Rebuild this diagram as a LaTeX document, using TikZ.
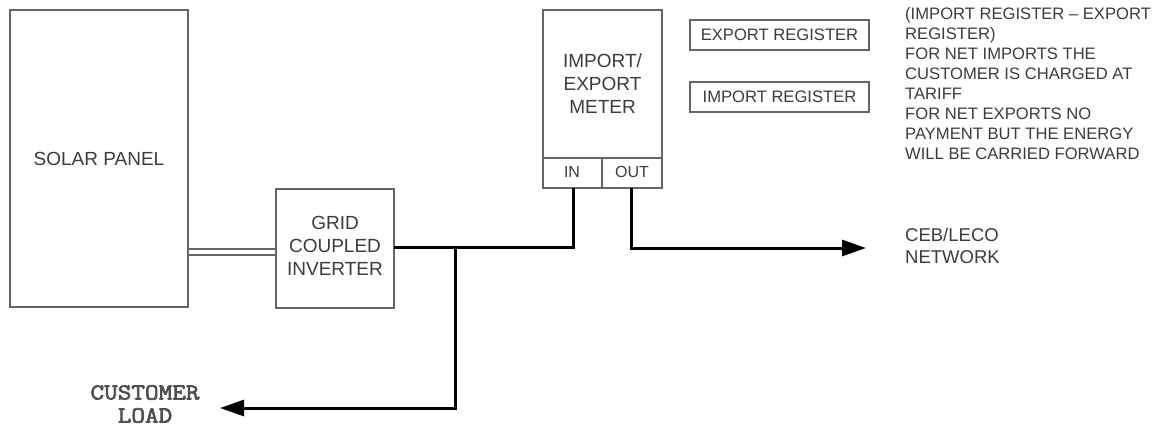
\documentclass[tikz,border=0pt]{standalone}
\usepackage{fontspec}
\setmainfont{Liberation Sans}
\newfontfamily\courfont[FakeStretch=1.15,FakeBold=3]{Latin Modern Mono}
\usetikzlibrary{arrows.meta}
\definecolor{txt}{HTML}{3C3C3C}
\definecolor{boxc}{HTML}{666666}
\begin{document}
\begin{tikzpicture}[x=1pt,y=-1pt,
  box/.style={draw=boxc,line width=1.6pt,inner sep=0pt,outer sep=0pt},
  lbl/.style={text=txt,font=\fontsize{19}{23}\selectfont,align=center,inner sep=0pt},
  small/.style={text=txt,font=\fontsize{16.6}{20}\selectfont,align=left,inner sep=0pt},
  wire/.style={line width=3pt,black},
  arr/.style={wire,-{Triangle[length=24pt,width=16pt]}}]
\useasboundingbox (0,0) rectangle (1161,429);
% boxes
\node[box,minimum width=178pt,minimum height=297pt,anchor=north west] (solar) at (10,10) {};
\node[lbl] at (solar.center) {SOLAR PANEL};
\node[box,minimum width=118pt,minimum height=119pt,anchor=north west] (inv) at (276,189) {};
\node[lbl] (invt) at (335,246) {GRID\\COUPLED\\INVERTER};
\node[box,minimum width=119pt,minimum height=178pt,anchor=north west] (meter) at (543,10) {};
\node[lbl] at (602.5,84) {IMPORT/\\EXPORT\\METER};
\coordinate (mdivl) at (543,158);
\coordinate (mdivr) at (662,158);
\draw[boxc,line width=1.6pt] (mdivl) -- (mdivr);
\coordinate (mdivt) at (602,158);
\coordinate (mdivb) at (602,188);
\draw[boxc,line width=1.6pt] (mdivt) -- (mdivb);
\node[lbl,font=\fontsize{16}{18}\selectfont] (in) at (572,172) {IN};
\node[lbl,font=\fontsize{16}{18}\selectfont] (out) at (632,172) {OUT};
\node[box,minimum width=179pt,minimum height=30pt,anchor=north west] (exreg) at (690,20) {};
\node[lbl,font=\fontsize{16.6}{20}\selectfont] at (exreg.center) {EXPORT REGISTER};
\node[box,minimum width=179pt,minimum height=30pt,anchor=north west] (imreg) at (690,82) {};
\node[lbl,font=\fontsize{16.6}{20}\selectfont] at (imreg.center) {IMPORT REGISTER};
\node[small,anchor=north west] (note) at (905,7) {(IMPORT REGISTER -- EXPORT\\REGISTER)\\FOR NET IMPORTS THE\\CUSTOMER IS CHARGED AT\\TARIFF\\FOR NET EXPORTS NO\\PAYMENT BUT THE ENERGY\\WILL BE CARRIED FORWARD};
\node[small,font=\fontsize{18.5}{22}\selectfont,anchor=west] (ceb) at (905,246) {CEB/LECO\\NETWORK};
\node[text=txt!90,font=\courfont\fontsize{23}{23}\selectfont,align=center,inner sep=0pt] (load) at (145,404) {CUSTOMER\\LOAD};
% double line solar -> inverter
\coordinate (d1a) at (188,249); \coordinate (d1b) at (276,249);
\coordinate (d2a) at (188,255); \coordinate (d2b) at (276,255);
\draw[boxc,line width=1.6pt] (d1a) -- (d1b);
\draw[boxc,line width=1.6pt] (d2a) -- (d2b);
% wires
\coordinate (invout) at (394,247);
\coordinate (jn) at (455,247);
\coordinate (inpin) at (573,188);
\coordinate (outpin) at (631,188);
\coordinate (loadend) at (220,408);
\coordinate (netend) at (866,248);
\draw[wire,line join=miter] (invout) -- (inpin |- invout) -- (inpin);
\draw[arr] (jn) -- (jn |- loadend) -- (loadend);
\draw[arr] (outpin) -- (outpin |- netend) -- (netend);
\end{tikzpicture}
\end{document}
